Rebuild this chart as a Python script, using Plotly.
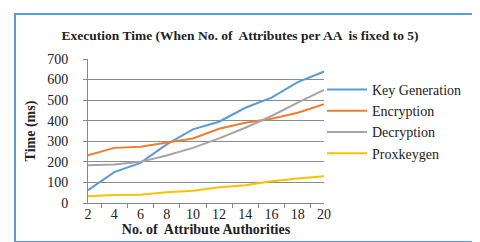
import plotly.graph_objects as go

categories = ["2", "4", "6", "8", "10", "12", "14", "16", "18", "20"]
key_generation = [62, 150, 195, 285, 358, 395, 463, 512, 588, 639]
encryption = [232, 268, 273, 293, 314, 361, 390, 410, 439, 480]
decryption = [184, 187, 200, 231, 268, 314, 366, 423, 488, 550]
proxkeygen = [33, 39, 40, 52, 60, 76, 86, 106, 119, 130]
y_ticks = [0, 100, 200, 300, 400, 500, 600, 700]

series = [
    ("Key Generation", key_generation, "#5B9BD5"),
    ("Encryption", encryption, "#ED7D31"),
    ("Decryption", decryption, "#A5A5A5"),
    ("Proxkeygen", proxkeygen, "#FFC000"),
]

W, H = 480, 242
L, R, T, B = 80, 316, 51, 195

fig = go.Figure()
for name, vals, col in series:
    fig.add_trace(go.Scatter(x=categories, y=vals, mode="lines", name=name,
                             line=dict(color=col, width=2)))

serif = "Liberation Serif, Times New Roman, serif"
fig.update_layout(
    width=W, height=H,
    margin=dict(l=L, r=W - R, t=T, b=H - B),
    paper_bgcolor="white", plot_bgcolor="white",
    font=dict(family=serif, size=14, color="#222"),
    title=dict(text="<b>Execution Time (When No. of  Attributes per AA  is fixed to 5)</b>",
               x=(232 - L) / (R - L), xref="paper", xanchor="center",
               y=(H - 27) / H, yanchor="middle",
               font=dict(family=serif, size=13.5, color="#222")),
    showlegend=True,
    legend=dict(x=(314 - L) / (R - L), xanchor="left", y=(B - 66) / (B - T), yanchor="top",
                font=dict(family=serif, size=14, color="#222"),
                bgcolor="rgba(0,0,0,0)", itemwidth=40, tracegroupgap=0),
    xaxis=dict(type="category", tickson="boundaries", ticks="outside", ticklen=4,
               tickcolor="#888", showline=True, linecolor="#888", linewidth=1,
               showgrid=False, tickfont=dict(size=14), ticklabelstandoff=-2,
               title=dict(text="<b>No. of  Attribute Authorities</b>", standoff=0,
                          font=dict(family=serif, size=14))),
    yaxis=dict(range=[0, 700], tickvals=y_ticks, ticks="outside", ticklen=4,
               tickcolor="#888", showline=True, linecolor="#888", linewidth=1,
               showgrid=True, gridcolor="#8c8c8c", gridwidth=1, zeroline=False,
               tickfont=dict(size=14), ticklabelstandoff=12,
               title=dict(text="<b>Time (ms)</b>", standoff=8,
                          font=dict(family=serif, size=14))),
)

# outer blue frame
fig.add_shape(type="rect", xref="paper", yref="paper",
              x0=(7 - L) / (R - L), x1=(475 - L) / (R - L),
              y0=(B - 234) / (B - T), y1=(B - 6) / (B - T),
              line=dict(color="#5B9BD5", width=2), layer="below")

fig.write_html("out.html")
